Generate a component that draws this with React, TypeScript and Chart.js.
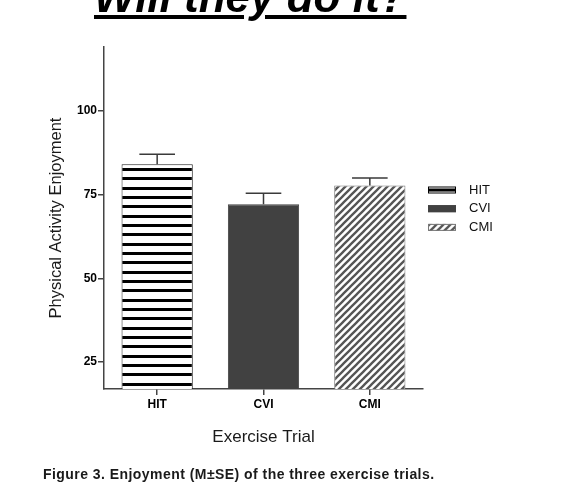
import React, { useEffect, useRef } from "react";
import { Chart, registerables } from "chart.js";

Chart.register(...registerables);

const categories = ["HIT", "CVI", "CMI"];
const means = [84.0, 72.1, 77.7];
const standardErrors = [3.0, 3.3, 2.2];
const yTicks = [25, 50, 75, 100];
const yMin = 17;
const yMax = 119;

const FONT = "'Liberation Sans', Arial, Helvetica, sans-serif";

function makeStripes(): CanvasPattern | string {
  const c = document.createElement("canvas");
  c.width = 8;
  c.height = 28;
  const g = c.getContext("2d");
  if (!g) return "#fff";
  g.fillStyle = "#ffffff";
  g.fillRect(0, 0, 8, 28);
  g.fillStyle = "#000000";
  g.fillRect(0, 0, 8, 3);
  g.fillRect(0, 9, 8, 3);
  g.fillRect(0, 19, 8, 3);
  return g.createPattern(c, "repeat") || "#fff";
}

function makeHatch(): CanvasPattern | string {
  const s = 7;
  const c = document.createElement("canvas");
  c.width = s;
  c.height = s;
  const g = c.getContext("2d");
  if (!g) return "#fff";
  g.fillStyle = "#ffffff";
  g.fillRect(0, 0, s, s);
  g.strokeStyle = "#555555";
  g.lineWidth = 2.3;
  g.beginPath();
  for (let k = -1; k <= 1; k++) {
    g.moveTo(k * s - 1, s + 1);
    g.lineTo(k * s + s + 1, -1);
  }
  g.stroke();
  return g.createPattern(c, "repeat") || "#fff";
}

const errorBarPlugin = {
  id: "errorBars",
  afterDatasetsDraw(chart: any) {
    const { ctx } = chart;
    const meta = chart.getDatasetMeta(0);
    const yScale = chart.scales.y;
    ctx.save();
    ctx.strokeStyle = "#3a3a3a";
    ctx.lineWidth = 1.5;
    meta.data.forEach((bar: any, i: number) => {
      const x = bar.x;
      const yTop = bar.y;
      const yErr = yScale.getPixelForValue(means[i] + standardErrors[i]);
      const half = bar.width * 0.25;
      ctx.beginPath();
      ctx.moveTo(x, yTop);
      ctx.lineTo(x, yErr);
      ctx.moveTo(x - half, yErr);
      ctx.lineTo(x + half, yErr);
      ctx.stroke();
    });
    ctx.restore();
  },
};

const sideLegendPlugin = {
  id: "sideLegend",
  afterDraw(chart: any) {
    const { ctx, chartArea } = chart;
    const ds = chart.data.datasets[0];
    const x0 = chartArea.right + 5;
    let y = chartArea.top + 143;
    ctx.save();
    (chart.data.labels as string[]).forEach((lab, i) => {
      ctx.save();
      ctx.translate(x0, y - 1.5);
      ctx.fillStyle = ds.backgroundColor[i];
      ctx.fillRect(0, -2, 28, 7);
      ctx.strokeStyle = i === 0 ? "#000" : ds.borderColor[i];
      ctx.lineWidth = 1;
      ctx.strokeRect(0.5, -1.5, 27, 6);
      ctx.restore();
      ctx.fillStyle = "#111";
      ctx.font = `13px ${FONT}`;
      ctx.textBaseline = "middle";
      ctx.textAlign = "left";
      ctx.fillText(lab, x0 + 41, y);
      y += 18.7;
    });
    ctx.restore();
  },
};

export default function App() {
  const canvasRef = useRef<HTMLCanvasElement | null>(null);

  useEffect(() => {
    document.body.style.margin = "0";
    const canvas = canvasRef.current;
    if (!canvas) return;
    const chart = new Chart(canvas, {
      type: "bar",
      data: {
        labels: categories,
        datasets: [
          {
            data: means,
            backgroundColor: [makeStripes(), "#414141", makeHatch()] as any,
            borderColor: ["#222222", "#414141", "#777777"],
            borderWidth: 1,
            barPercentage: 0.67,
            categoryPercentage: 1,
          },
        ],
      },
      options: {
        animation: false,
        responsive: false,
        devicePixelRatio: 1,
        layout: { padding: { top: 47, right: 153, left: 0, bottom: 0 } },
        plugins: {
          legend: { display: false },
          tooltip: { enabled: false },
          title: { display: false },
        },
        scales: {
          x: {
            type: "category",
            offset: true,
            grid: {
              display: true,
              drawOnChartArea: false,
              drawTicks: true,
              tickLength: 6,
              offset: false,
              color: "#444",
              lineWidth: 1.5,
            },
            border: { display: true, color: "#444", width: 1.5 },
            ticks: {
              color: "#000",
              font: { family: FONT, size: 12, weight: "bold" },
              padding: 2,
            },
            title: {
              display: true,
              text: "Exercise Trial",
              color: "#1a1a1a",
              font: { family: FONT, size: 17 },
              padding: { top: 0, bottom: 38 },
            },
            afterFit: (s: any) => {
              s.height = 97;
            },
          },
          y: {
            type: "linear",
            min: yMin,
            max: yMax,
            afterBuildTicks: (s: any) => {
              s.ticks = yTicks.map((v) => ({ value: v }));
            },
            grid: {
              display: true,
              drawOnChartArea: false,
              drawTicks: true,
              tickLength: 6,
              color: "#444",
              lineWidth: 1.5,
            },
            border: { display: true, color: "#444", width: 1.5 },
            ticks: {
              color: "#000",
              font: { family: FONT, size: 12, weight: "bold" },
              padding: 1,
            },
            title: {
              display: true,
              text: "Physical Activity Enjoyment",
              color: "#1a1a1a",
              font: { family: FONT, size: 16.5 },
              padding: { top: 47, bottom: 0 },
            },
            afterFit: (s: any) => {
              s.width = 104;
            },
          },
        },
      },
      plugins: [errorBarPlugin, sideLegendPlugin],
    } as any);
    return () => chart.destroy();
  }, []);

  return (
    <div style={{ position: "relative", width: 576, height: 486, overflow: "hidden", background: "#fff" }}>
      <canvas
        ref={canvasRef}
        width={576}
        height={486}
        style={{ position: "absolute", left: 0, top: 0, width: 576, height: 486, display: "block" }}
      />
      <div
        style={{
          position: "absolute",
          left: 94,
          top: -25,
          fontFamily: FONT,
          fontSize: 44,
          lineHeight: "44px",
          fontWeight: "bold",
          fontStyle: "italic",
          textDecoration: "underline",
          color: "#000",
          whiteSpace: "nowrap",
        }}
      >
        Will they do it?
      </div>
      <div
        style={{
          position: "absolute",
          left: 43,
          top: 466.5,
          fontFamily: FONT,
          fontSize: 14,
          lineHeight: "14px",
          fontWeight: "bold",
          letterSpacing: "0.45px",
          color: "#1a1a1a",
          whiteSpace: "nowrap",
        }}
      >
        Figure 3. Enjoyment (M±SE) of the three exercise trials.
      </div>
    </div>
  );
}
